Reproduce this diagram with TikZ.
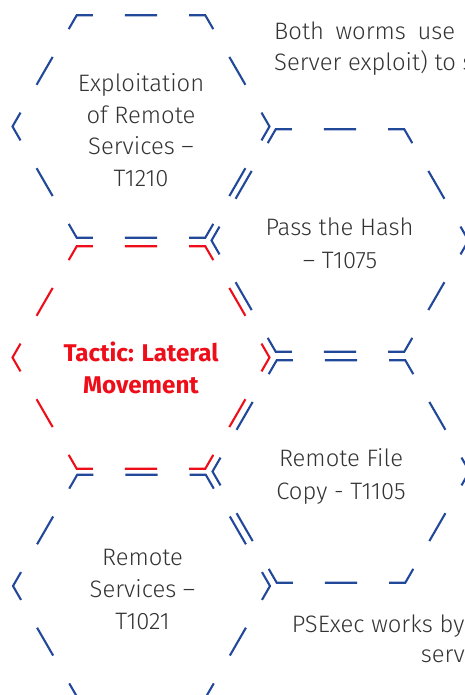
\documentclass[tikz,border=0pt]{standalone}
\usepackage{fontspec}
\setmainfont{Fira Sans Light}[BoldFont={Fira Sans Bold}]
\definecolor{hexblue}{HTML}{22489A}
\definecolor{hexred}{HTML}{EE0E1A}
\definecolor{txtgray}{HTML}{333333}

\tikzset{
  hexline/.style={line width=2.1pt, dash pattern=on 32.125pt off 32.125pt, dash phase=48.19pt},
  lbl/.style={anchor=base, inner sep=0pt, text=txtgray, font=\fontsize{23.8}{28}\selectfont},
  tactic/.style={lbl, text=hexred, font=\fontsize{24.2}{28}\selectfont\bfseries},
  note/.style={lbl, anchor=base west},
}

% dashed flat-top hexagon, dashes centred on the corners
\newcommand{\hexcell}[2]{%
  \draw[hexline, draw=#2, shift={(#1)}]
    (112.44,-27.82) -- (64.25,-111.28) -- (-64.25,-111.28) -- (-128.5,0)
    -- (-64.25,111.28) -- (64.25,111.28) -- (128.5,0) -- cycle;}

\begin{document}
\begin{tikzpicture}[x=1pt,y=-1pt]
  \path[use as bounding box] (0,0) rectangle (465,695);
  \clip (0,0) rectangle (465,695);

  % cell centres
  \coordinate (c1) at (141,126.5);
  \coordinate (c2) at (141,357.5);
  \coordinate (c3) at (141.5,586);
  \coordinate (d1) at (340,240.5);
  \coordinate (d2) at (341,471.5);

  \hexcell{c1}{hexblue}
  \hexcell{c3}{hexblue}
  \hexcell{d1}{hexblue}
  \hexcell{d2}{hexblue}
  \hexcell{c2}{hexred}

  % Exploitation of Remote Services
  \node[lbl] (e1) at (141,91.7) {Exploitation};
  \node[lbl] (e2) at (141,123.3) {of Remote};
  \node[lbl] (e3) at (141,155) {Services –};
  \node[lbl] (e4) at (141,186.5) {T1210};

  % tactic
  \node[tactic] (t1) at (141,361.7) {Tactic: Lateral};
  \node[tactic] (t2) at (141,393.5) {Movement};

  % Remote Services
  \node[lbl] (r1) at (142.5,565.7) {Remote};
  \node[lbl] (r2) at (142.5,597.3) {Services –};
  \node[lbl] (r3) at (142.5,629.3) {T1021};

  % Pass the Hash
  \node[lbl] (p1) at (339.5,235) {Pass the Hash};
  \node[lbl] (p2) at (340,268) {– T1075};

  % Remote File Copy
  \node[lbl] (f1) at (341,466.7) {Remote File};
  \node[lbl] (f2) at (341,499.3) {Copy - T1105};

  % notes
  \node[note] (n1) at (274,39.3) {\makebox[181pt][s]{Both worms use}};
  \node[note] (n2) at (274,70.7) {Server exploit) to s};
  \node[note] (n3) at (291.7,632.7) {PSExec works by};
  \node[note] (n4) at (420.7,662.3) {serv};
\end{tikzpicture}
\end{document}
